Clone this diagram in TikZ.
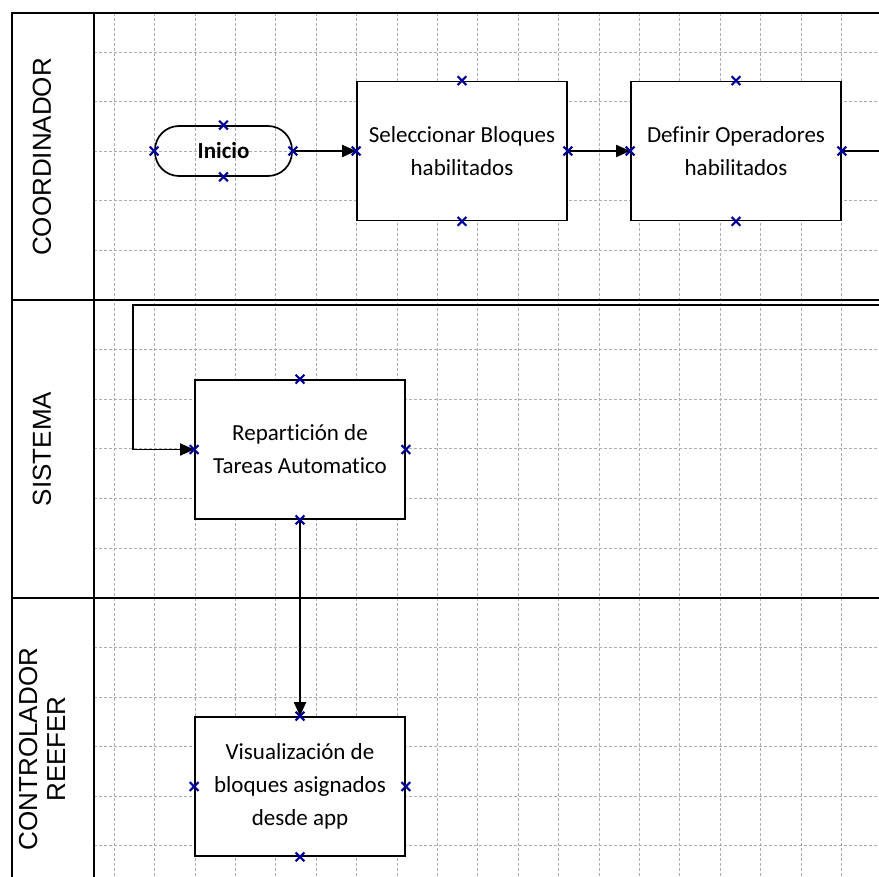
\documentclass[tikz,border=0pt]{standalone}
\usepackage{fontspec}
\setmainfont{Carlito}[Ligatures=NoCommon]
\newfontfamily\lanefont{Liberation Sans}
\usetikzlibrary{arrows.meta,positioning,shapes.misc}

\tikzset{
  gridline/.style={gray!65,line width=0.6pt,dash pattern=on 3pt off 2pt},
  laneline/.style={line width=1.5pt},
  lanelabel/.style={rotate=90,align=center,font=\lanefont\fontsize{26}{28}\selectfont},
  task/.style={draw,line width=1.7pt,minimum width=210pt,minimum height=139pt,
    align=center,inner sep=0pt,font=\fontsize{23}{33}\selectfont},
  terminal/.style={draw,line width=1.7pt,rounded corners=24pt,minimum width=137pt,
    minimum height=50pt,inner sep=0pt,font=\bfseries\fontsize{23}{28}\selectfont},
  flow/.style={line width=1.8pt,-{Triangle[length=14pt,width=12pt]}},
  cpt/.style={cross out,draw=blue!60!black,line width=2.2pt,minimum size=6.5pt,inner sep=0pt}
}
\newcommand{\cpts}[1]{%
  \foreach \a in {north,south,east,west} \node[cpt] at (#1.\a) {};}

\begin{document}
\begin{tikzpicture}[x=1pt,y=-1pt]
\useasboundingbox (0,0) rectangle (879,877);
% grid
\begin{scope}
\clip (94,13) rectangle (879,877);
\foreach \i in {0,...,18} \draw[gridline] ({114+40.4*\i},13) -- ({114+40.4*\i},877);
\foreach \j in {0,...,16} \draw[gridline] (94,{52+49.6*\j}) -- (879,{52+49.6*\j});
\end{scope}
% lanes
\draw[laneline] (879,13) -- (12,13) -- (12,877);
\draw[laneline] (94,13) -- (94,877);
\draw[laneline] (12,300) -- (879,300);
\draw[laneline] (12,598) -- (879,598);
\node[lanelabel] (coord) at (42,157) {COORDINADOR};
\node[lanelabel] (sist) at (42,449) {SISTEMA};
\node[lanelabel] (ctrl) at (42,749) {CONTROLADOR\\REEFER};
% shapes
\node[terminal] (inicio) at (223.5,151) {Inicio};
\node[task,fill=white] (selec) at (462,151) {Seleccionar Bloques\\habilitados};
\node[task,fill=white] (defin) at (736,151) {Definir Operadores\\habilitados};
\node[task,fill=white] (repart) at (300,449.5) {Repartición de\\Tareas Automatico};
\node[task,fill=white] (visual) at (300,786.5) {Visualización de\\bloques asignados\\desde app};
\coordinate (outR) at (879,151);
\coordinate (backR) at (879,305);
\coordinate (backL) at (133,305);
% connectors
\draw[flow] (inicio.east) -- (selec.west);
\draw[flow] (selec.east) -- (defin.west);
\draw[line width=1.8pt] (defin.east) -- (outR);
\draw[flow] (backR) -- (backL) |- (repart.west);
\draw[flow] (repart.south) -- (visual.north);
% connection points
\cpts{inicio}
\cpts{selec}
\cpts{defin}
\cpts{repart}
\cpts{visual}
\end{tikzpicture}
\end{document}
